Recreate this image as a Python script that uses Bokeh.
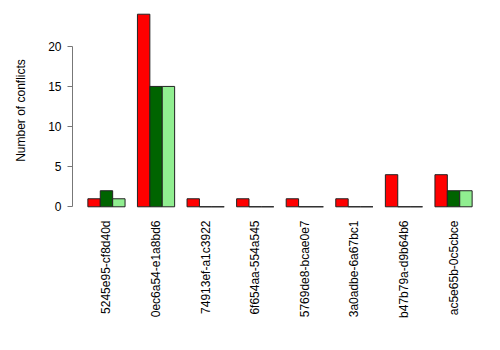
import math
from bokeh.plotting import figure
from bokeh.models import FixedTicker, Range1d, ColumnDataSource
from bokeh.embed import file_html
from bokeh.resources import INLINE

# ---- data ----
commits = ["5245e95-cf8d40d", "0ec6a54-e1a8bd6", "74913ef-a1c3922", "6f654aa-554a545",
           "5769de8-bcae0e7", "3a0adbe-6a67bc1", "b47b79a-d9b64b6", "ac5e65b-0c5cbce"]
series_a = [1, 24, 1, 1, 1, 1, 4, 4]   # red
series_b = [2, 15, 0, 0, 0, 0, 0, 2]   # dark green
series_c = [1, 15, 0, 0, 0, 0, 0, 2]   # light green
y_ticks = [0, 5, 10, 15, 20]
colors = ["#FF0000", "#006400", "#90EE90"]

# R barplot(beside=TRUE) geometry: each group = 3 bars + 1 bar space
n = len(commits)
xs, tops, fills = [], [], []
for j, ser in enumerate([series_a, series_b, series_c]):
    for i, v in enumerate(ser):
        xs.append(1.5 + 4 * i + j)
        tops.append(v)
        fills.append(colors[j])
src = ColumnDataSource(dict(x=xs, top=tops, fill=fills))

xmin, xmax = 1, 4 * n
ymax = max(series_a + series_b + series_c)
padx = 0.04 * (xmax - xmin)
pady = 0.04 * ymax

p = figure(width=500, height=350, output_backend="svg", toolbar_location=None,
           x_range=Range1d(xmin - padx, xmax + padx),
           y_range=Range1d(-pady, ymax + pady),
           min_border_left=72, min_border_right=13, min_border_top=6, min_border_bottom=136)
p.outline_line_color = None
p.xgrid.visible = False
p.ygrid.visible = False
p.background_fill_color = "white"
p.border_fill_color = "white"

p.vbar(x="x", top="top", bottom=0, width=1.0, fill_color="fill", line_color="#222222",
       line_width=1, source=src)

FONT = "Liberation Sans"

# y axis
ya = p.yaxis[0]
ya.ticker = FixedTicker(ticks=y_ticks)
ya.bounds = (min(y_ticks), max(y_ticks))
ya.axis_line_color = "#777777"
ya.major_tick_line_color = "#777777"
ya.minor_tick_line_color = None
ya.major_tick_out = 5
ya.major_tick_in = 0
ya.major_label_standoff = 6
ya.major_label_orientation = "horizontal"
ya.major_label_text_font = FONT
ya.major_label_text_font_size = "12px"
ya.major_label_text_color = "black"
ya.axis_label = "Number of conflicts"
ya.axis_label_text_font = FONT
ya.axis_label_text_font_size = "12px"
ya.axis_label_text_font_style = "normal"
ya.axis_label_text_color = "black"
ya.axis_label_standoff = 17

# x axis: labels only
xa = p.xaxis[0]
centers = [2.5 + 4 * i for i in range(n)]
xa.ticker = FixedTicker(ticks=centers)
xa.major_label_overrides = {c: lab for c, lab in zip(centers, commits)}
xa.major_label_orientation = math.pi / 2
xa.axis_line_color = None
xa.major_tick_line_color = None
xa.minor_tick_line_color = None
xa.major_tick_out = 0
xa.major_tick_in = 0
xa.major_label_standoff = 6
xa.major_label_text_font = FONT
xa.major_label_text_font_size = "12px"
xa.major_label_text_color = "black"

open("out.html", "w").write(file_html(p, INLINE))
